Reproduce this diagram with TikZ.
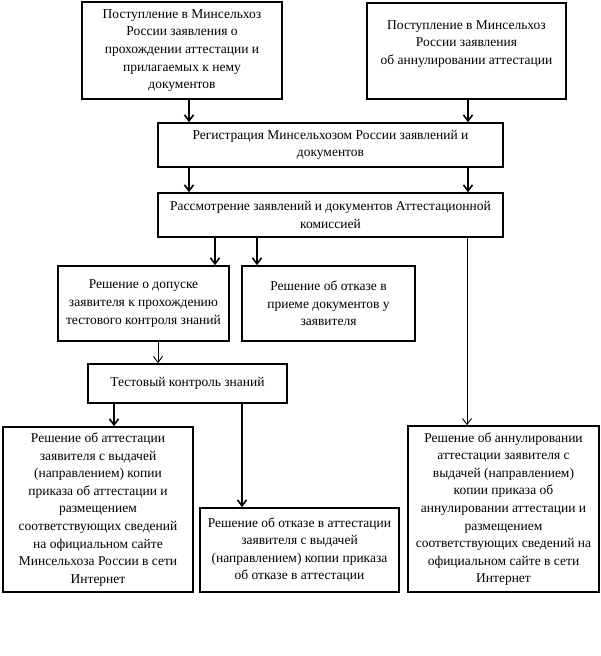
\documentclass[tikz,border=0pt]{standalone}
\usepackage{fontspec}
\setmainfont{Liberation Serif}
\usetikzlibrary{arrows.meta}

\begin{document}
\begin{tikzpicture}[
  x=1pt, y=-1pt,
  every node/.style={font=\fontsize{13.5}{17.6}\selectfont},
  block/.style={draw, line width=1.6pt, align=center, inner sep=2pt},
  arrow/.style={-{Straight Barb[length=6pt,width=9pt]}, line width=1.6pt},
  thinarrow/.style={-{Straight Barb[length=6pt,width=9pt]}, line width=0.9pt}
]
\useasboundingbox (0,0) rectangle (600,656);

\node[block, minimum width=200pt, minimum height=97pt] (receipt) at (182,50.5)
  {Поступление в Минсельхоз\\России заявления о\\прохождении аттестации и\\прилагаемых к нему\\документов};
\node[block, minimum width=199pt, minimum height=96pt] (annulreq) at (466.5,51)
  {Поступление в Минсельхоз\\России заявления\\об аннулировании аттестации\\\mbox{}};
\node[block, minimum width=345pt, minimum height=44pt] (register) at (330.5,145)
  {Регистрация Минсельхозом России заявлений и\\документов};
\node[block, minimum width=345pt, minimum height=44pt] (review) at (330.5,215)
  {Рассмотрение заявлений и документов Аттестационной\\комиссией};
\node[block, minimum width=171pt, minimum height=75pt] (admit) at (143.5,303.5)
  {Решение о допуске\\заявителя к прохождению\\тестового контроля знаний};
\node[block, minimum width=173pt, minimum height=75pt] (refuse) at (328.5,303.5)
  {Решение об отказе в\\приеме документов у\\заявителя};
\node[block, minimum width=199pt, minimum height=39pt] (test) at (187.5,383.5)
  {Тестовый контроль знаний};
\node[block, minimum width=190pt, minimum height=165pt] (attest) at (98,509.5)
  {Решение об аттестации\\заявителя с выдачей\\(направлением) копии\\приказа об аттестации и\\размещением\\соответствующих сведений\\на официальном сайте\\Минсельхоза России в сети\\Интернет};
\node[block, minimum width=199pt, minimum height=84pt] (deny) at (299.5,550)
  {Решение об отказе в аттестации\\заявителя с выдачей\\(направлением) копии приказа\\об отказе в аттестации};
\node[block, minimum width=191pt, minimum height=166pt] (annul) at (503.5,509)
  {Решение об аннулировании\\аттестации заявителя с\\выдачей (направлением)\\копии приказа об\\аннулировании аттестации и\\размещением\\соответствующих сведений на\\официальном сайте в сети\\Интернет};

\draw[arrow] (receipt.south -| 189,0) -- (register.north -| 189,0);
\draw[arrow] (annulreq.south -| 468,0) -- (register.north -| 468,0);
\draw[arrow] (register.south -| 189,0) -- (review.north -| 189,0);
\draw[arrow] (register.south -| 468,0) -- (review.north -| 468,0);
\draw[arrow] (review.south -| 215,0) -- (admit.north -| 215,0);
\draw[arrow] (review.south -| 257,0) -- (refuse.north -| 257,0);
\draw[thinarrow] (review.south -| 467,0) -- (annul.north -| 467,0);
\draw[thinarrow] (admit.south -| 158,0) -- (test.north -| 158,0);
\draw[arrow] (test.south -| 114,0) -- (attest.north -| 114,0);
\draw[arrow] (test.south -| 242,0) -- (deny.north -| 242,0);
\end{tikzpicture}
\end{document}
